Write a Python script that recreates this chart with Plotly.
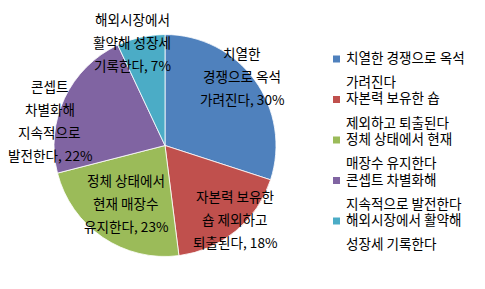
import math
import plotly.graph_objects as go

# ---- data ----
categories = [
    "치열한 경쟁으로 옥석 가려진다",
    "자본력 보유한 숍 제외하고 퇴출된다",
    "정체 상태에서 현재 매장수 유지한다",
    "콘셉트 차별화해 지속적으로 발전한다",
    "해외시장에서 활약해 성장세 기록한다",
]
values = [30, 18, 23, 22, 7]
colors = ["#4F81BD", "#C0504D", "#9BBB59", "#8064A2", "#4BACC6"]

# word counts per line for the in-pie labels and for the legend
label_breaks = [[1, 2, 1], [2, 2, 1], [2, 2, 1], [1, 1, 1, 1], [1, 2, 1]]
legend_breaks = [[3, 1], [3, 2], [3, 2], [2, 2], [2, 2]]

# ---- layout constants ----
W, H = 485, 289
CX, CY, R = 165, 145.5, 111
label_rf = [0.93, 0.92, 0.63, 1.06, 0.98]      # radial position of labels (fraction of R)
label_dang = [-6, -4, 0, -13, -5]              # angular tweak (deg)
LINE_H = 23
FONT = "Noto Sans CJK KR, Noto Sans, sans-serif"
FS = 13.6


def split_lines(text, breaks):
    words = text.split(" ")
    out, i = [], 0
    for n in breaks:
        out.append(" ".join(words[i:i + n]))
        i += n
    return out


fig = go.Figure()
fig.add_trace(go.Pie(
    labels=categories,
    values=values,
    sort=False,
    direction="clockwise",
    rotation=0,
    marker=dict(colors=colors, line=dict(color="white", width=0.8)),
    textinfo="none",
    hoverinfo="label+percent",
    showlegend=False,
    domain=dict(x=[(CX - R) / W, (CX + R) / W],
                y=[1 - (CY + R) / H, 1 - (CY - R) / H]),
))

annotations = []
shapes = []
total = sum(values)
cum = 0
for i, v in enumerate(values):
    theta = math.radians(360 * (cum + v / 2) / total + label_dang[i])
    cum += v
    r = label_rf[i] * R
    px = CX + r * math.sin(theta)
    py = CY - r * math.cos(theta)
    pct = round(100 * v / total)
    lines = split_lines(categories[i], label_breaks[i])
    lines[-1] = f"{lines[-1]}, {pct}%"
    n = len(lines)
    for j, ln in enumerate(lines):
        ly = py + (j - (n - 1) / 2) * LINE_H
        annotations.append(dict(
            x=px / W, y=1 - ly / H, xref="paper", yref="paper",
            text=ln, showarrow=False, xanchor="center", yanchor="middle",
            borderpad=0,
            font=dict(family=FONT, size=FS, color="black"),
        ))

# legend (drawn manually to reproduce spacing)
LEG_X0, LEG_Y0, LEG_PITCH, LEG_LINE = 333, 57, 40.5, 24
SQ = 7
for i, cat in enumerate(categories):
    y1 = LEG_Y0 + i * LEG_PITCH
    shapes.append(dict(
        type="rect", xref="paper", yref="paper",
        x0=LEG_X0 / W, x1=(LEG_X0 + SQ) / W,
        y0=1 - (y1 + 2 + SQ / 2) / H, y1=1 - (y1 + 2 - SQ / 2) / H,
        fillcolor=colors[i], line=dict(width=0),
    ))
    for j, ln in enumerate(split_lines(cat, legend_breaks[i])):
        annotations.append(dict(
            x=(LEG_X0 + SQ + 5) / W, y=1 - (y1 + j * LEG_LINE) / H,
            xref="paper", yref="paper", text=ln, showarrow=False,
            xanchor="left", yanchor="middle", borderpad=0,
            font=dict(family=FONT, size=FS, color="black"),
        ))

fig.update_layout(
    width=W, height=H,
    margin=dict(l=0, r=0, t=0, b=0),
    paper_bgcolor="white",
    plot_bgcolor="white",
    showlegend=False,
    annotations=annotations,
    shapes=shapes,
)

fig.write_html("out.html")
